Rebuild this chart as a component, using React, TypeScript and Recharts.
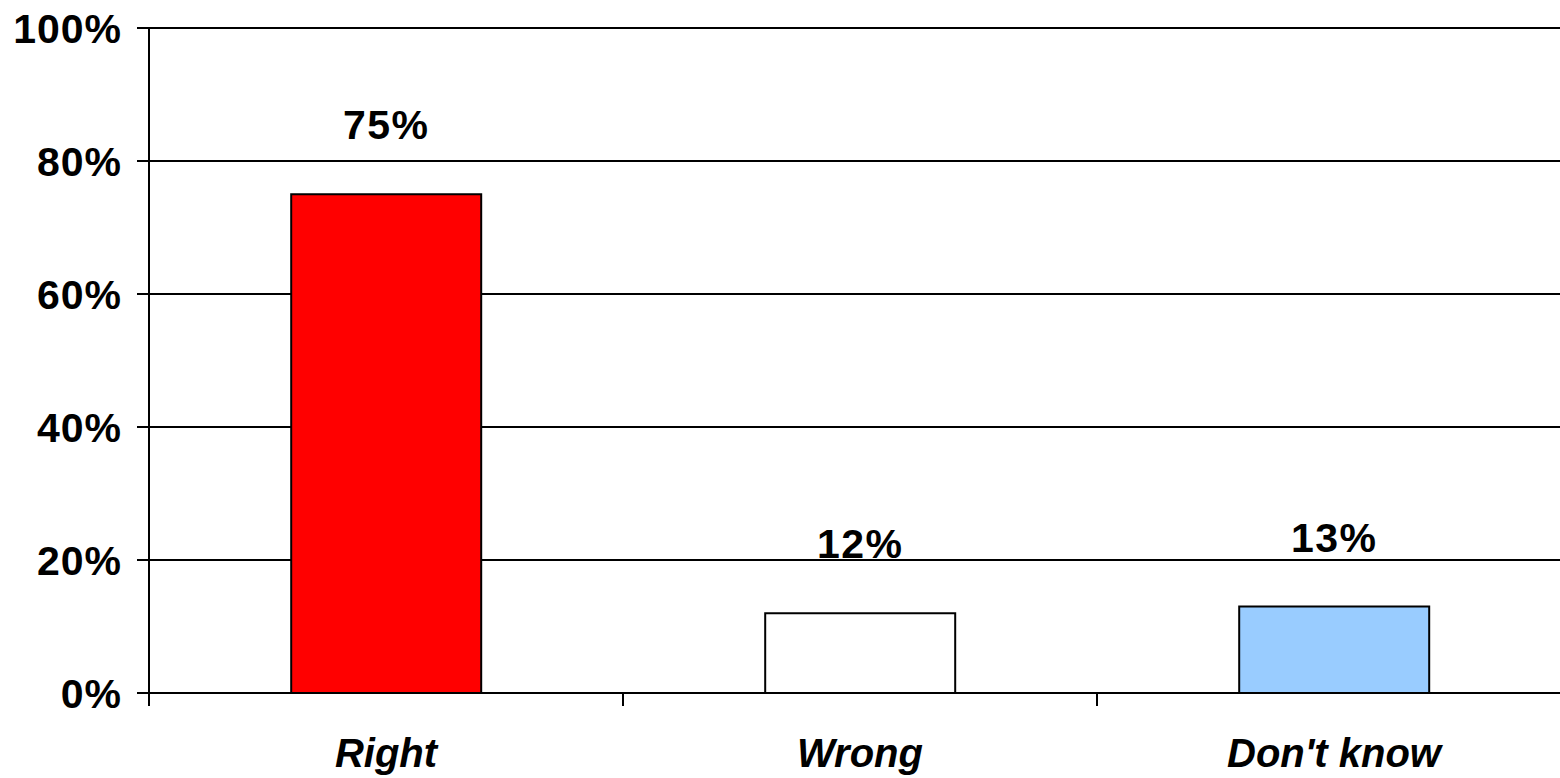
import { BarChart, Bar, XAxis, YAxis, CartesianGrid, Cell, LabelList } from "recharts";

// answers and their share, in percent
const categories = ["Right", "Wrong", "Don't know"];
const shares = [75, 12, 13];
const barColors = ["#FF0000", "#FFFFFF", "#99CCFF"];
const yTicks = [0, 20, 40, 60, 80, 100];

const data = categories.map((name, i) => ({ name, value: shares[i] }));

const W = 1600;
const H = 778;
const Y_AXIS_W = 149;
const RIGHT = 29;
const BAND = (W - Y_AXIS_W - RIGHT) / categories.length;
const FONT = "'Liberation Sans', Arial, sans-serif";

// label in the middle of the band, tick mark at its left edge (Excel style)
function CategoryTick(props: any) {
  const { x, payload } = props;
  const left = x - BAND / 2;
  return (
    <g>
      <line x1={left} y1={693} x2={left} y2={706} stroke="#000" strokeWidth={2} />
      <text
        x={x}
        y={767}
        textAnchor="middle"
        fontFamily={FONT}
        fontSize={40}
        fontWeight="bold"
        fontStyle="italic"
        fill="#000"
      >
        {payload.value}
      </text>
    </g>
  );
}

export default function App() {
  return (
    <div style={{ position: "absolute", left: 0, top: 0, width: 1560, height: 778, overflow: "hidden", background: "#fff" }}>
      <BarChart
        width={W}
        height={H}
        data={data}
        margin={{ top: 28, right: RIGHT, left: 0, bottom: 0 }}
        barCategoryGap="30%"
      >
        <CartesianGrid vertical={false} stroke="#000" strokeWidth={2} />
        <XAxis
          dataKey="name"
          height={85}
          axisLine={{ stroke: "#000", strokeWidth: 2 }}
          tickLine={false}
          tick={<CategoryTick />}
          interval={0}
        />
        <YAxis
          width={Y_AXIS_W}
          domain={[0, 100]}
          ticks={yTicks}
          interval={0}
          tickFormatter={(v: number) => `${v}%`}
          axisLine={{ stroke: "#000", strokeWidth: 2 }}
          tickLine={{ stroke: "#000", strokeWidth: 2 }}
          tickSize={12}
          tickMargin={15}
          tick={{ fill: "#000", fontFamily: FONT, fontSize: 41, fontWeight: "bold", letterSpacing: 1 }}
        />
        <Bar dataKey="value" stroke="#000" strokeWidth={2} isAnimationActive={false}>
          {data.map((d, i) => (
            <Cell key={d.name} fill={barColors[i]} />
          ))}
          <LabelList
            dataKey="value"
            position="top"
            offset={55}
            formatter={(v: any) => `${v}%`}
            fill="#000"
            fontFamily={FONT}
            fontSize={41}
            fontWeight="bold"
            style={{ letterSpacing: 1.5 }}
          />
        </Bar>
      </BarChart>
    </div>
  );
}
